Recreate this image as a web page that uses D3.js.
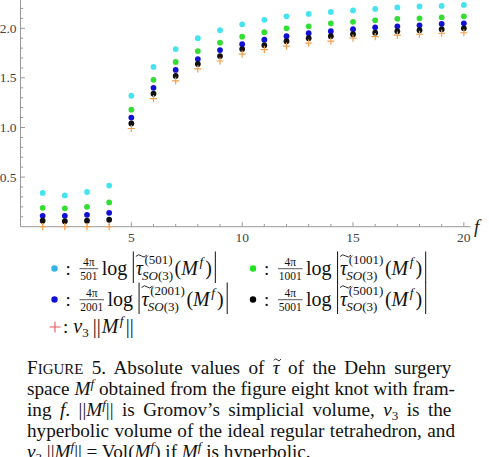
<!DOCTYPE html>
<html>
<head>
<meta charset="utf-8">
<script src="https://cdn.jsdelivr.net/npm/d3@7"></script>
<style>
  html, body { margin: 0; padding: 0; background: #fff; }
  svg { display: block; font-family: "Liberation Serif", "DejaVu Serif", serif; }
</style>
</head>
<body>
<div id="chart"></div>
<script>
// framing f and the values
const framings = d3.range(1, 21);
const tau501  = [0.34, 0.315, 0.35, 0.415, 1.32, 1.61, 1.79, 1.90, 1.98, 2.04, 2.085, 2.12, 2.145, 2.165, 2.18, 2.195, 2.21, 2.22, 2.225, 2.235];
const tau1001 = [0.19, 0.185, 0.20, 0.245, 1.18, 1.48, 1.66, 1.77, 1.855, 1.915, 1.96, 2.00, 2.02, 2.05, 2.065, 2.08, 2.095, 2.10, 2.11, 2.12];
const tau2001 = [0.11, 0.11, 0.12, 0.14, 1.10, 1.40, 1.58, 1.69, 1.78, 1.84, 1.885, 1.92, 1.95, 1.97, 1.99, 2.01, 2.02, 2.03, 2.045, 2.05];
const tau5001 = [0.06, 0.055, 0.06, 0.07, 1.04, 1.34, 1.52, 1.64, 1.72, 1.79, 1.83, 1.87, 1.90, 1.92, 1.94, 1.955, 1.97, 1.98, 1.99, 2.00];
const volume  = [0, 0, 0, 0, 0.99, 1.29, 1.47, 1.59, 1.67, 1.74, 1.785, 1.82, 1.85, 1.87, 1.90, 1.915, 1.93, 1.94, 1.95, 1.955];
const xTicks = [5, 10, 15, 20];
const yTicks = [0.5, 1.0, 1.5, 2.0];

const W = 489, H = 457;
const svg = d3.select("#chart").append("svg")
  .attr("width", W).attr("height", H);

const x = d3.scaleLinear().domain([0, 20.3]).range([20.5, 470.5]);
const y = d3.scaleLinear().domain([0, 2.285]).range([226.7, 0]);

const axisClr = "#999", labClr = "#444";

// y axis: ticks inward
const yAx = svg.append("g").attr("transform", `translate(${x(0)},0)`);
yAx.append("line").attr("y1", y(0)).attr("y2", 0).attr("stroke", axisClr);
yAx.selectAll(".mn").data(d3.range(1, 23).map(d => d / 10))
  .enter().append("line")
  .attr("x1", 0).attr("x2", d => (Math.round(d * 10) % 5 === 0) ? 4.5 : 2.7)
  .attr("y1", d => y(d)).attr("y2", d => y(d))
  .attr("stroke", axisClr);
yAx.selectAll("text").data(yTicks).enter().append("text")
  .attr("x", -4).attr("y", d => y(d) + 4.5)
  .attr("text-anchor", "end").attr("font-size", 13.5).attr("fill", labClr)
  .text(d => d.toFixed(1));

// x axis
const xAx = svg.append("g").attr("transform", `translate(0,${y(0)})`);
xAx.append("line").attr("x1", x(0)).attr("x2", x(20.3)).attr("stroke", axisClr);
xAx.selectAll(".mn").data(framings).enter().append("line")
  .attr("x1", d => x(d)).attr("x2", d => x(d))
  .attr("y1", 0).attr("y2", d => d % 5 === 0 ? -4.5 : -2.7)
  .attr("stroke", axisClr);
xAx.selectAll("text").data(xTicks).enter().append("text")
  .attr("x", d => x(d)).attr("y", 15.5)
  .attr("text-anchor", "middle").attr("font-size", 13.5).attr("fill", labClr)
  .text(d => d);
svg.append("text").attr("x", 474).attr("y", 233)
  .attr("font-size", 19).attr("font-style", "italic").attr("fill", "#222").text("f");

// series
const series = [
  {vals: tau501,  clr: "#45e3f0"},
  {vals: tau1001, clr: "#33dd33"},
  {vals: tau2001, clr: "#1111d6"},
  {vals: tau5001, clr: "#111111"}
];
series.forEach(s => {
  svg.append("g").selectAll("circle").data(framings).enter().append("circle")
    .attr("cx", d => x(d)).attr("cy", (d, i) => y(s.vals[i]))
    .attr("r", 2.9).attr("fill", s.clr);
});
const pl = svg.append("g");
framings.forEach((f, i) => {
  const cx = x(f), cy = y(volume[i]), h = 3.6;
  pl.append("path")
    .attr("d", `M${cx - h},${cy}H${cx + h}M${cx},${cy - h}V${cy + h}`)
    .attr("stroke", "#f2a050").attr("stroke-width", 1.2).attr("fill", "none");
});

// legend (math typeset by hand)
const txt = "#111";
function put(g, px, py, str, size, italic) {
  const t = g.append("text").attr("x", px).attr("y", py)
    .attr("font-size", size).attr("fill", txt).text(str);
  if (italic) t.attr("font-style", "italic");
  return px + t.node().getComputedTextLength();
}
function tilde(g, x0, yy, w) {
  g.append("path")
    .attr("d", `M${x0},${yy} q${w / 4},-3.2 ${w / 2},-0.6 q${w / 4},2.6 ${w / 2},-0.8`)
    .attr("stroke", txt).attr("stroke-width", 0.9).attr("fill", "none");
}
function entry(x0, yb, N, clr) {
  const g = svg.append("g");
  g.append("circle").attr("cx", x0).attr("cy", yb - 6).attr("r", 3.2).attr("fill", clr);
  put(g, x0 + 11, yb, ":", 19);
  // fraction 4π / N
  const fl = x0 + 25;
  const num = g.append("text").attr("y", yb - 8.5).attr("font-size", 11.5).attr("fill", txt)
    .attr("text-anchor", "middle").text("4π");
  const den = g.append("text").attr("y", yb + 5).attr("font-size", 11.5).attr("fill", txt)
    .attr("text-anchor", "middle").text(N);
  const fw = Math.max(num.node().getComputedTextLength(), den.node().getComputedTextLength()) + 1.5;
  num.attr("x", fl + fw / 2); den.attr("x", fl + fw / 2);
  g.append("line").attr("x1", fl).attr("x2", fl + fw).attr("y1", yb - 5.8).attr("y2", yb - 5.8)
    .attr("stroke", txt).attr("stroke-width", 0.7);
  let cx = put(g, fl + fw + 3.5, yb, "log", 20);
  const b1 = cx + 6;
  g.append("line").attr("x1", b1).attr("x2", b1).attr("y1", yb - 23).attr("y2", yb + 8.5)
    .attr("stroke", txt).attr("stroke-width", 1);
  const tx = b1 + 2.5;
  const te = put(g, tx, yb, "τ", 20, true);
  tilde(g, tx, yb - 18, 11);
  const se = put(g, te + 1.5, yb - 10.5, `(${N})`, 13);
  const so = g.append("text").attr("x", te - 1).attr("y", yb + 5).attr("font-size", 13).attr("fill", txt);
  so.append("tspan").attr("font-style", "italic").text("SO");
  so.append("tspan").text("(3)");
  const sbe = te - 1 + so.node().getComputedTextLength();
  cx = put(g, Math.max(se, sbe) + 1.5, yb, "(", 20);
  cx = put(g, cx, yb, "M", 20, true);
  cx = put(g, cx + 1.5, yb - 8.5, "f", 13.5, true);
  cx = put(g, cx + 2, yb, ")", 20);
  g.append("line").attr("x1", cx + 3.5).attr("x2", cx + 3.5).attr("y1", yb - 23).attr("y2", yb + 8.5)
    .attr("stroke", txt).attr("stroke-width", 1);
}
entry(54.5, 274.5, "501", "#33b3e6");
entry(253, 274.5, "1001", "#22e022");
entry(54.5, 305.5, "2001", "#1111d6");
entry(253, 305.5, "5001", "#000");

// third legend row: + : v3 ||M^f||
{
  const g = svg.append("g"), yb = 333;
  g.append("path").attr("d", `M${49.5},${yb - 6}h11M${55},${yb - 11.5}v11`)
    .attr("stroke", "#ee5555").attr("stroke-width", 1.1);
  let cx = put(g, 63, yb, ":", 19);
  cx = put(g, cx + 5, yb, "v", 20, true);
  cx = put(g, cx, yb + 4, "3", 13);
  cx = put(g, cx + 4, yb, "||", 20);
  cx = put(g, cx + 1, yb, "M", 20, true);
  cx = put(g, cx + 1.5, yb - 8.5, "f", 13.5, true);
  put(g, cx + 2, yb, "||", 20);
}

// caption: font size fitted so that the plain 4th line fills the width,
// the other lines justified by word spacing
const capX = 27, capR = 455;
const probe = svg.append("text").attr("font-size", 20)
  .text("hyperbolic volume of the ideal regular tetrahedron, and");
const capSize = Math.min(21, 20 * (capR - capX - 4) / probe.node().getComputedTextLength());
probe.remove();
const supSz = capSize * 0.68, supDy = capSize * 0.38;
function capLine(yb, parts, justify) {
  const t = svg.append("text").attr("x", capX).attr("y", yb)
    .attr("font-size", capSize).attr("fill", "#111");
  const spans = parts.map(p => {
    const s = t.append("tspan").text(p.s);
    if (p.it) s.attr("font-style", "italic");
    if (p.sz) s.attr("font-size", p.sz);
    if (p.dy) s.attr("dy", p.dy);
    return s;
  });
  if (justify) {
    const full = parts.map(p => p.s).join("");
    const spaces = (full.match(/ /g) || []).length;
    const len = t.node().getComputedTextLength();
    t.attr("word-spacing", (capR - capX - len) / spaces);
  }
  return spans;
}
const Mf = [{s: "M", it: true}, {s: "f", it: true, sz: supSz, dy: -supDy}];
const l1 = capLine(374, [{s: "F"}, {s: "IGURE", sz: capSize * 0.78}, {s: " 5.  Absolute values of "}, {s: "τ", it: true},
  {s: " of the Dehn surgery"}], true);
{
  // tilde over tau in caption
  const tb = l1[3].node().getBBox();
  tilde(svg, tb.x + 1, tb.y + 3.5, tb.width - 1);
}
capLine(395, [{s: "space "}, ...Mf, {s: " obtained from the figure eight knot with fram-", dy: supDy}], true);
capLine(416, [{s: "ing "}, {s: "f", it: true}, {s: ".  ||"}, ...Mf, {s: "|| is Gromov’s simplicial volume, ", dy: supDy},
  {s: "v", it: true}, {s: "3", sz: supSz, dy: 4}, {s: " is the", dy: -4}], true);
capLine(437, [{s: "hyperbolic volume of the ideal regular tetrahedron, and"}], true);
capLine(458, [{s: "v", it: true}, {s: "3", sz: supSz, dy: 4}, {s: " ||", dy: -4}, ...Mf, {s: "|| = Vol(", dy: supDy}, ...Mf,
  {s: ") if ", dy: supDy}, ...Mf, {s: " is hyperbolic.", dy: supDy}], false);
</script>
</body>
</html>
